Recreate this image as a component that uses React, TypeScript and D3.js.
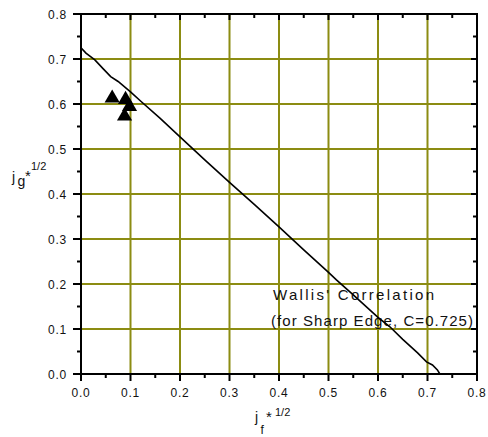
import React, { useEffect, useRef } from "react";
import * as d3 from "d3";

const curveX = [0, 0.01, 0.028, 0.045, 0.06, 0.075, 0.1, 0.122, 0.16, 0.2, 0.25, 0.3, 0.35, 0.4, 0.45, 0.5, 0.516, 0.55, 0.6, 0.624, 0.65, 0.68, 0.698, 0.71, 0.72, 0.725];
const curveY = [0.725, 0.713, 0.698, 0.678, 0.661, 0.650, 0.627, 0.605, 0.568, 0.527, 0.476, 0.426, 0.377, 0.327, 0.276, 0.226, 0.209, 0.176, 0.126, 0.105, 0.077, 0.047, 0.027, 0.020, 0.009, 0];
const dataX = [0.063, 0.090, 0.098, 0.088];
const dataY = [0.613, 0.610, 0.594, 0.573];
const xTicks = [0.0, 0.1, 0.2, 0.3, 0.4, 0.5, 0.6, 0.7, 0.8];
const yTicks = [0.0, 0.1, 0.2, 0.3, 0.4, 0.5, 0.6, 0.7, 0.8];
const annotation1 = "Wallis' Correlation";
const annotation2 = "(for Sharp Edge, C=0.725)";

export default function App() {
  const ref = useRef<SVGSVGElement>(null);
  useEffect(() => {
    const svg = d3.select(ref.current);
    svg.selectAll("*").remove();
    const L = 81, R = 477, T = 14, B = 374;
    const x = d3.scaleLinear().domain([0, 0.8]).range([L, R]);
    const y = d3.scaleLinear().domain([0, 0.8]).range([B, T]);
    const grid = "#8c8c12";
    const font = "'Liberation Sans', Arial, sans-serif";

    svg.append("rect").attr("width", 488).attr("height", 437).attr("fill", "#fff");
    const g = svg.append("g");
    // grid
    xTicks.slice(1, -1).forEach((t) => {
      g.append("line").attr("x1", x(t)).attr("x2", x(t)).attr("y1", T).attr("y2", B)
        .attr("stroke", grid).attr("stroke-width", 2);
    });
    yTicks.slice(1, -1).forEach((t) => {
      g.append("line").attr("x1", L).attr("x2", R).attr("y1", y(t)).attr("y2", y(t))
        .attr("stroke", grid).attr("stroke-width", 2);
    });

    // annotation
    const ann = g.append("g").attr("font-family", font).attr("font-size", 15).attr("fill", "#111");
    ann.append("text").attr("x", 273).attr("y", 300).attr("textLength", 161).attr("lengthAdjust", "spacing").text(annotation1);
    ann.append("text").attr("x", 271).attr("y", 326).attr("textLength", 202).attr("lengthAdjust", "spacing").text(annotation2);

    // curve
    const pts: [number, number][] = curveX.map((v, i) => [v, curveY[i]]);
    const line = d3.line<[number, number]>().x((d) => x(d[0])).y((d) => y(d[1]));
    g.append("path").attr("d", line(pts)).attr("fill", "none").attr("stroke", "#000").attr("stroke-width", 1.6);

    // points
    const sym = d3.symbol().type(d3.symbolTriangle).size(100);
    dataX.forEach((v, i) => {
      g.append("path").attr("d", sym()).attr("transform", `translate(${x(v)},${y(dataY[i])})`).attr("fill", "#000");
    });

    // frame
    g.append("rect").attr("x", L).attr("y", T).attr("width", R - L).attr("height", B - T)
      .attr("fill", "none").attr("stroke", "#000").attr("stroke-width", 2);

    // ticks
    const minor = d3.range(0.05, 0.8, 0.1);
    xTicks.forEach((t) => {
      g.append("line").attr("x1", x(t)).attr("x2", x(t)).attr("y1", B).attr("y2", B + 7).attr("stroke", "#000").attr("stroke-width", 2);
      g.append("line").attr("x1", x(t)).attr("x2", x(t)).attr("y1", T).attr("y2", T + 6).attr("stroke", "#000").attr("stroke-width", 2);
    });
    minor.forEach((t) => {
      g.append("line").attr("x1", x(t)).attr("x2", x(t)).attr("y1", B).attr("y2", B + 4).attr("stroke", "#000").attr("stroke-width", 2);
      g.append("line").attr("x1", x(t)).attr("x2", x(t)).attr("y1", T).attr("y2", T + 4).attr("stroke", "#000").attr("stroke-width", 2);
    });
    yTicks.forEach((t) => {
      g.append("line").attr("x1", L - 8).attr("x2", L).attr("y1", y(t)).attr("y2", y(t)).attr("stroke", "#000").attr("stroke-width", 2);
      g.append("line").attr("x1", R - 6).attr("x2", R).attr("y1", y(t)).attr("y2", y(t)).attr("stroke", "#000").attr("stroke-width", 2);
    });
    minor.forEach((t) => {
      g.append("line").attr("x1", L - 4).attr("x2", L).attr("y1", y(t)).attr("y2", y(t)).attr("stroke", "#000").attr("stroke-width", 2);
      g.append("line").attr("x1", R - 4).attr("x2", R).attr("y1", y(t)).attr("y2", y(t)).attr("stroke", "#000").attr("stroke-width", 2);
    });

    // tick labels
    const lab = g.append("g").attr("font-family", font).attr("font-size", 12).attr("fill", "#111").attr("letter-spacing", "0.8px");
    xTicks.forEach((t) => {
      lab.append("text").attr("x", x(t)).attr("y", 397).attr("text-anchor", "middle").text(d3.format(".1f")(t));
    });
    yTicks.forEach((t) => {
      lab.append("text").attr("x", 67).attr("y", y(t) + 4.5).attr("text-anchor", "end").text(d3.format(".1f")(t));
    });

    // axis titles
    const tg = g.append("g").attr("font-family", font).attr("fill", "#111");
    tg.append("text").attr("x", 12).attr("y", 182).attr("font-size", 14).text("j");
    tg.append("text").attr("x", 17.5).attr("y", 186).attr("font-size", 14).text("g");
    tg.append("text").attr("x", 25).attr("y", 181).attr("font-size", 15).text("*");
    tg.append("text").attr("x", 31).attr("y", 170).attr("font-size", 11).text("1/2");

    tg.append("text").attr("x", 255).attr("y", 422).attr("font-size", 14).text("j");
    tg.append("text").attr("x", 260.5).attr("y", 434).attr("font-size", 12).text("f");
    tg.append("text").attr("x", 266).attr("y", 422).attr("font-size", 15).text("*");
    tg.append("text").attr("x", 275).attr("y", 416).attr("font-size", 11).text("1/2");
  }, []);
  return <svg ref={ref} width={488} height={437} style={{ position: "absolute", left: 0, top: 0 }} />;
}
